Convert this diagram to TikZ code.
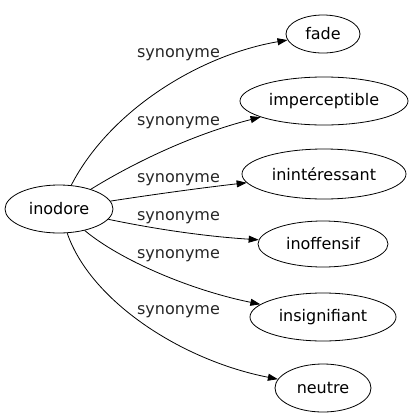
\documentclass[tikz,border=0pt]{standalone}
\usepackage{fontspec}
\setmainfont{DejaVu Sans}
\usetikzlibrary{arrows.meta,shapes.geometric}

\begin{document}
\begin{tikzpicture}[
    x=1bp, y=-1bp,
    >={Triangle[length=10bp,width=7bp]},
    word/.style={draw, ellipse, inner sep=0pt, line width=0.8bp, font=\fontsize{16bp}{19bp}\selectfont},
    rel/.style={inner sep=0pt, text=black!85, font=\fontsize{16bp}{19bp}\selectfont},
    link/.style={->, line width=0.8bp}
]
\useasboundingbox (0,0) rectangle (415,419);

\node[word, minimum width=108bp, minimum height=48bp] (inodore) at (59,209) {inodore};
\node[word, minimum width=74bp, minimum height=38bp] (fade) at (323,34) {fade};
\node[word, minimum width=168bp, minimum height=48bp] (imperceptible) at (324,101) {imperceptible};
\node[word, minimum width=164bp, minimum height=50bp] (ininteressant) at (324,174) {inintéressant};
\node[word, minimum width=130bp, minimum height=46bp] (inoffensif) at (323,244) {inoffensif};
\node[word, minimum width=146bp, minimum height=48bp] (insignifiant) at (323,317) {insignifiant};
\node[word, minimum width=96bp, minimum height=48bp] (neutre) at (323,388) {neutre};

\node[rel] (syn1) at (178.5,55) {synonyme};
\node[rel] (syn2) at (178.5,122.5) {synonyme};
\node[rel] (syn3) at (178.5,179.5) {synonyme};
\node[rel] (syn4) at (178.5,218) {synonyme};
\node[rel] (syn5) at (178.5,256) {synonyme};
\node[rel] (syn6) at (178.5,312) {synonyme};

\draw[link] (inodore) .. controls (110,110) and (200,55) .. (fade);
\draw[link] (inodore) .. controls (130,165) and (190,135) .. (imperceptible);
\draw[link] (inodore) .. controls (150,195) and (200,188) .. (ininteressant);
\draw[link] (inodore) .. controls (150,228) and (200,236) .. (inoffensif);
\draw[link] (inodore) .. controls (120,260) and (190,290) .. (insignifiant);
\draw[link] (inodore) .. controls (90,300) and (180,360) .. (neutre);
\end{tikzpicture}
\end{document}
